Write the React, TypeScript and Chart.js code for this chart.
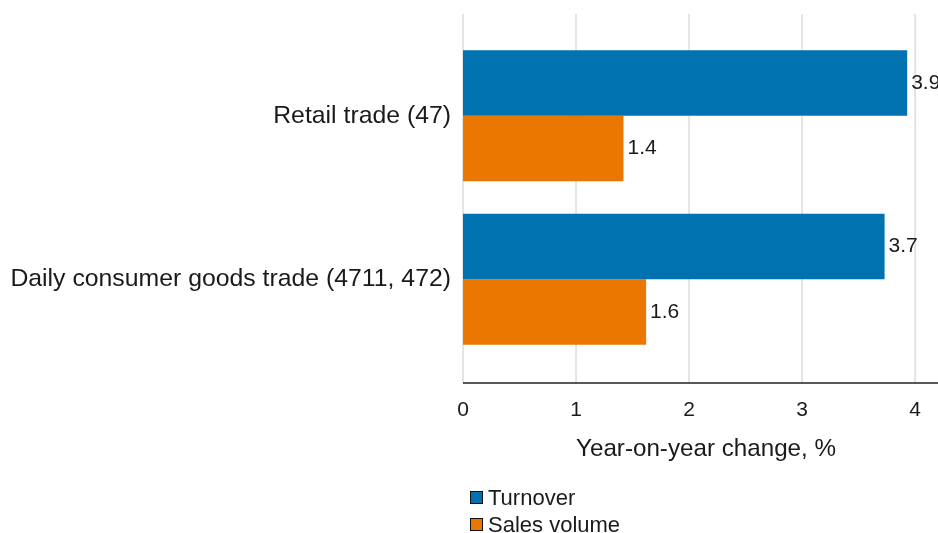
import React, { useEffect, useRef } from "react";
import { Chart, registerables } from "chart.js";

Chart.register(...registerables);

const categories = ["Retail trade (47)", "Daily consumer goods trade (4711, 472)"];
const seriesNames = ["Turnover", "Sales volume"];
const turnover = [3.93, 3.73];
const salesVolume = [1.42, 1.62];
const xTickValues = [0, 1, 2, 3, 4];
const xAxisTitle = "Year-on-year change, %";
const seriesColors = ["#0072b0", "#eb7600"];

const FONT = '"Liberation Sans", Arial, Helvetica, sans-serif';
const TEXT = "#1a1a1a";

export default function App() {
  const ref = useRef<HTMLCanvasElement>(null);

  useEffect(() => {
    if (!ref.current) return;
    const GRID_EXT_TOP = 20;
    const GRID_EXT_BOTTOM = 22;

    const gridPlugin = {
      id: "extGrid",
      beforeDatasetsDraw(chart: any) {
        const { ctx, chartArea, scales } = chart;
        const x = scales.x;
        const top = chartArea.top - GRID_EXT_TOP;
        const bottom = chartArea.bottom + GRID_EXT_BOTTOM;
        ctx.save();
        ctx.strokeStyle = "#dcdcdc";
        ctx.lineWidth = 1.5;
        for (const t of x.ticks) {
          const px = x.getPixelForValue(t.value);
          ctx.beginPath();
          ctx.moveTo(px, top);
          ctx.lineTo(px, bottom);
          ctx.stroke();
        }
        ctx.strokeStyle = "#222";
        ctx.lineWidth = 1.6;
        ctx.beginPath();
        ctx.moveTo(chartArea.left, bottom);
        ctx.lineTo(chart.width, bottom);
        ctx.stroke();
        ctx.restore();
      },
    };

    const labelPlugin = {
      id: "valueLabels",
      afterDatasetsDraw(chart: any) {
        const { ctx } = chart;
        ctx.save();
        ctx.font = `21px ${FONT}`;
        ctx.fillStyle = TEXT;
        ctx.textAlign = "left";
        ctx.textBaseline = "middle";
        chart.data.datasets.forEach((ds: any, i: number) => {
          const meta = chart.getDatasetMeta(i);
          meta.data.forEach((el: any, j: number) => {
            const v = ds.data[j] as number;
            ctx.fillText(v.toFixed(1), el.x + 4, el.y);
          });
        });
        ctx.restore();
      },
    };

    const chart = new Chart(ref.current, {
      type: "bar",
      data: {
        labels: categories,
        datasets: [
          {
            label: seriesNames[0],
            data: turnover,
            backgroundColor: seriesColors[0],
            categoryPercentage: 0.8,
            barPercentage: 1,
          },
          {
            label: seriesNames[1],
            data: salesVolume,
            backgroundColor: seriesColors[1],
            categoryPercentage: 0.8,
            barPercentage: 1,
          },
        ],
      },
      options: {
        indexAxis: "y",
        animation: false,
        responsive: true,
        maintainAspectRatio: false,
        layout: { padding: { top: 34, left: 0, right: 11, bottom: 0 } },
        plugins: {
          legend: { display: false },
          tooltip: { enabled: false },
        },
        scales: {
          y: {
            grid: { display: false, drawTicks: false },
            border: { display: false },
            ticks: {
              font: { family: FONT, size: 24.8 },
              color: TEXT,
              padding: 12,
            },
            afterFit(scale: any) {
              scale.width = 463;
            },
          },
          x: {
            min: 0,
            max: 4.3,
            grid: { display: false, drawTicks: false },
            border: { display: false },
            afterBuildTicks(scale: any) {
              scale.ticks = xTickValues.map((v) => ({ value: v }));
            },
            ticks: {
              font: { family: FONT, size: 21 },
              color: TEXT,
              padding: 37,
              maxRotation: 0,
              autoSkip: false,
            },
            title: {
              display: true,
              text: xAxisTitle,
              font: { family: FONT, size: 24.2 },
              color: TEXT,
              padding: { top: 0, bottom: 69 },
            },
            afterFit(scale: any) {
              scale.height = 172;
            },
          },
        },
      },
      plugins: [gridPlugin, labelPlugin],
    });
    return () => chart.destroy();
  }, []);

  return (
    <div
      style={{
        position: "fixed",
        left: 0,
        top: 0,
        width: 938,
        height: 533,
        overflow: "hidden",
        background: "#fff",
      }}
    >
      <div style={{ position: "relative", width: 960, height: 533 }}>
        <canvas ref={ref} />
      </div>
      <div
        style={{
          position: "absolute",
          left: 470,
          top: 484,
          fontFamily: FONT,
          fontSize: 22,
          color: TEXT,
          lineHeight: "27px",
        }}
      >
        {seriesNames.map((name, i) => (
          <div key={name} style={{ display: "flex", alignItems: "center" }}>
            <span
              style={{
                display: "inline-block",
                width: 11,
                height: 11,
                border: "1.5px solid #111",
                background: seriesColors[i],
                marginRight: 5,
              }}
            />
            <span>{name}</span>
          </div>
        ))}
      </div>
    </div>
  );
}
